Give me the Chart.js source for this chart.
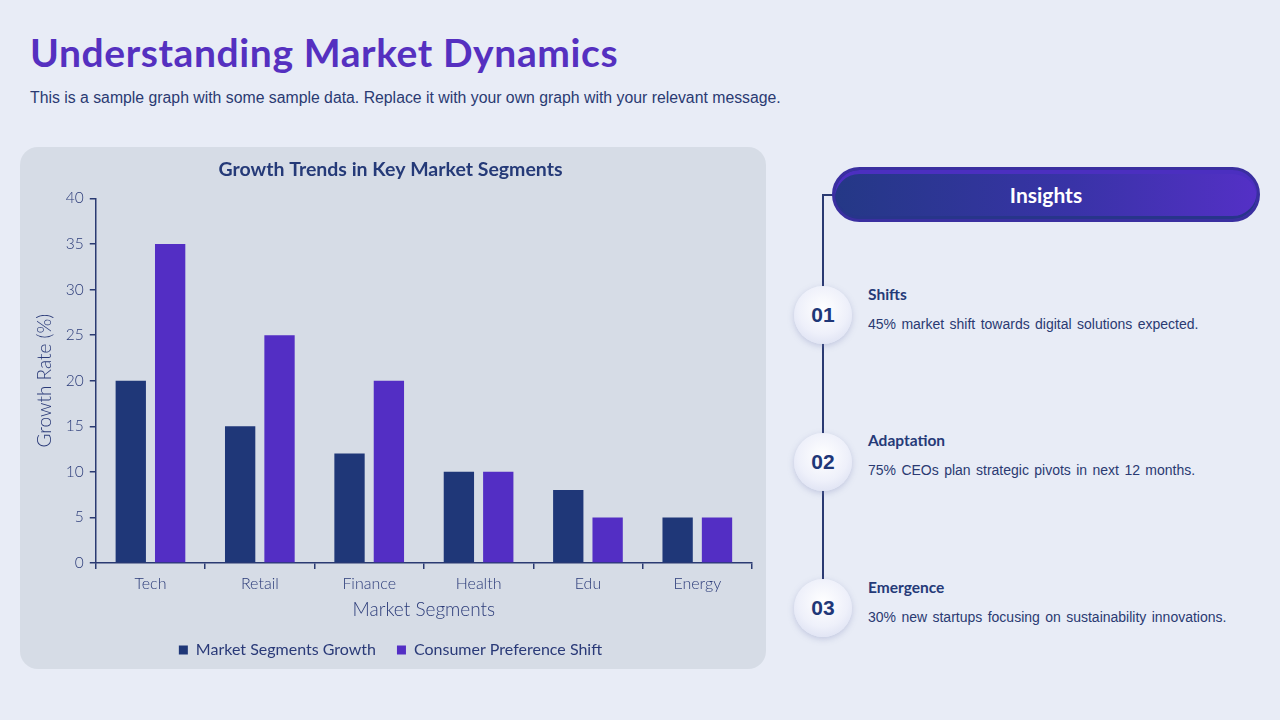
<!DOCTYPE html>
<html>
<head>
<meta charset="utf-8">
<script src="https://cdn.jsdelivr.net/npm/chart.js@4.4.1/dist/chart.umd.min.js"></script>
<style>
  html, body { margin: 0; padding: 0; }
  body {
    width: 1280px; height: 720px; overflow: hidden; position: relative;
    background: #e8ecf6; font-family: 'Liberation Sans', Arial, sans-serif;
  }
  h1 {
    position: absolute; left: 30px; top: 29px; margin: 0;
    font-family: Lato, sans-serif; font-weight: 700; font-size: 39px;
    color: #5530c0; letter-spacing: 0.6px;
  }
  .sub {
    position: absolute; left: 30px; top: 89px; margin: 0;
    font-size: 15.8px; color: #2a3a72;
  }
  .panel {
    position: absolute; left: 20px; top: 147px; width: 746px; height: 522px;
    background: #d6dce6; border-radius: 18px;
  }
  .panel canvas { position: absolute; left: 0; top: 0; }
  .pill {
    position: absolute; left: 832px; top: 167px; width: 428px; height: 55px;
    border-radius: 28px; box-sizing: border-box;
    background: linear-gradient(90deg, #243886 0%, #3833a6 55%, #5430c6 100%);
    border: 3px solid #3a2fa0;
    box-shadow: inset 0 -3px 0 #27358a, inset 0 4px 0 #4b2fc0;
    color: #fff; font-family: Lato, sans-serif; font-weight: 700; font-size: 21px;
    text-align: center; line-height: 50px;
  }
  .vline { position: absolute; left: 822px; top: 195px; width: 2px; height: 400px; background: #2a3a72; }
  .hline { position: absolute; left: 822px; top: 194px; width: 12px; height: 2px; background: #2a3a72; }
  .circ {
    position: absolute; width: 58px; height: 58px; border-radius: 50%;
    background: radial-gradient(circle at 50% 40%, #ffffff 0%, #eef0fa 55%, #d4d9ee 100%);
    box-shadow: 0 2px 6px rgba(120,130,180,0.35);
    color: #1f3778; font-weight: 700; font-size: 21px; text-align: center; line-height: 58px;
  }
  .head {
    position: absolute; left: 868px; font-family: Lato, sans-serif; font-weight: 700;
    font-size: 15.5px; color: #253a78;
  }
  .txt { position: absolute; left: 868px; font-size: 14px; color: #2a3a72; word-spacing: 1.5px; }
</style>
</head>
<body>
<h1>Understanding Market Dynamics</h1>
<p class="sub">This is a sample graph with some sample data. Replace it with your own graph with your relevant message.</p>

<div class="panel"><canvas id="chart" width="746" height="522"></canvas></div>

<div class="vline"></div>
<div class="hline"></div>
<div class="pill">Insights</div>

<div class="circ" style="left:794px; top:286px;">01</div>
<div class="head" style="top:285px;">Shifts</div>
<div class="txt" style="top:316px;">45% market shift towards digital solutions expected.</div>

<div class="circ" style="left:794px; top:433px;">02</div>
<div class="head" style="top:431px;">Adaptation</div>
<div class="txt" style="top:462px;">75% CEOs plan strategic pivots in next 12 months.</div>

<div class="circ" style="left:794px; top:579px;">03</div>
<div class="head" style="top:578px;">Emergence</div>
<div class="txt" style="top:609px;">30% new startups focusing on sustainability innovations.</div>

<script>
const categories = ['Tech', 'Retail', 'Finance', 'Health', 'Edu', 'Energy'];
const segmentGrowth = [20, 15, 12, 10, 8, 5];
const preferenceShift = [35, 25, 20, 10, 5, 5];
const seriesNames = ['Market Segments Growth', 'Consumer Preference Shift'];

const ink = '#2a3a78';
const axisFont = 'Lato, sans-serif';

new Chart(document.getElementById('chart'), {
  type: 'bar',
  data: {
    labels: categories,
    datasets: [
      { label: seriesNames[0], data: segmentGrowth, backgroundColor: '#1f3778' },
      { label: seriesNames[1], data: preferenceShift, backgroundColor: '#532ec4' }
    ]
  },
  options: {
    responsive: false,
    animation: false,
    categoryPercentage: 0.72,
    barPercentage: 0.77,
    layout: { padding: { left: 9, right: 14, top: 8, bottom: 1 } },
    plugins: {
      title: {
        display: true,
        text: 'Growth Trends in Key Market Segments',
        color: '#253a78',
        font: { family: axisFont, size: 19.5, weight: 'bold' },
        padding: { top: 3, bottom: 17 }
      },
      legend: {
        position: 'bottom',
        labels: {
          color: ink, boxWidth: 9, boxHeight: 9, padding: 21,
          font: { family: axisFont, size: 16 }
        }
      },
      tooltip: { enabled: false }
    },
    scales: {
      x: {
        grid: { drawOnChartArea: false, drawTicks: true, tickLength: 6, color: '#2a3a72', lineWidth: 1.5 },
        border: { display: true, color: '#2a3a72', width: 1.5 },
        ticks: { color: ink, font: { family: axisFont, size: 16, weight: '300' }, padding: 5 },
        title: { display: true, text: 'Market Segments', color: ink, font: { family: axisFont, size: 19, weight: '300' }, padding: { top: 0, bottom: 0 } }
      },
      y: {
        min: 0, max: 40,
        grid: { drawOnChartArea: false, drawTicks: true, tickLength: 6, color: '#2a3a72', lineWidth: 1.5 },
        border: { display: true, color: '#2a3a72', width: 1.5 },
        ticks: { stepSize: 5, color: ink, font: { family: axisFont, size: 15.5, weight: '300' }, padding: 6 },
        title: { display: true, text: 'Growth Rate (%)', color: ink, font: { family: axisFont, size: 19, weight: '300' }, padding: { top: 4, bottom: 4 } }
      }
    }
  }
});
</script>
</body>
</html>
